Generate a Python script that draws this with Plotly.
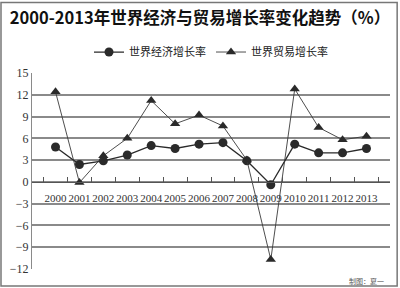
import plotly.graph_objects as go

years = ["2000", "2001", "2002", "2003", "2004", "2005", "2006", "2007",
         "2008", "2009", "2010", "2011", "2012", "2013"]
econ = [4.8, 2.4, 2.9, 3.7, 5.0, 4.6, 5.2, 5.4, 2.9, -0.4, 5.2, 4.0, 4.0, 4.6]
trade = [12.4, -0.1, 3.6, 6.0, 11.2, 8.0, 9.2, 7.7, 3.0, -10.7, 12.8, 7.5, 5.8, 6.3]
yticks = [-12, -9, -6, -3, 0, 3, 6, 9, 12, 15]

fig = go.Figure()
fig.add_trace(go.Scatter(
    x=years, y=econ, name="世界经济增长率", mode="lines+markers",
    line=dict(color="#2a2a2a", width=1.3),
    marker=dict(symbol="circle", size=9, color="#2a2a2a")))
fig.add_trace(go.Scatter(
    x=years, y=trade, name="世界贸易增长率", mode="lines+markers",
    line=dict(color="#3a3a3a", width=0.9),
    marker=dict(symbol="triangle-up", size=9, color="#2a2a2a")))

fig.update_layout(
    width=400, height=288,
    margin=dict(l=32, r=10, t=73, b=19),
    paper_bgcolor="white", plot_bgcolor="white",
    title=dict(text="<b>2000-2013年世界经济与贸易增长率变化趋势（%）</b>",
               x=0.5, xanchor="center", y=0.9375, yanchor="middle",
               font=dict(family="Noto Sans CJK SC", size=16.5, color="#111")),
    legend=dict(orientation="h", x=0.5, xanchor="center", y=1.107, yanchor="middle",
                font=dict(family="Noto Sans CJK SC", size=11, color="#222"),
                itemwidth=30, bgcolor="rgba(0,0,0,0)"),
    showlegend=True,
    xaxis=dict(type="category", anchor="free", position=12/27,
               showline=True, linecolor="#555", linewidth=1.2,
               ticks="inside", ticklen=5, tickcolor="#555", tickson="boundaries",
               showgrid=False, tickangle=0, ticklabelstandoff=6,
               tickfont=dict(family="Liberation Serif", size=11, color="#333")),
    yaxis=dict(range=[-12, 15], tickvals=yticks, showgrid=True,
               gridcolor="#8a8a8a", gridwidth=1.5, zeroline=False,
               showline=True, linecolor="#8a8a8a", linewidth=1.2,
               ticks="", tickfont=dict(family="Liberation Serif", size=12, color="#333")),
)
fig.add_annotation(text="制图：夏一", xref="paper", yref="paper", x=0.99, y=-0.062,
                   xanchor="right", yanchor="middle", showarrow=False,
                   font=dict(family="Noto Sans CJK SC", size=7, color="#555"))
fig.add_shape(type="rect", xref="paper", yref="paper", x0=-0.0866, x1=1.02,
              y0=-0.087, y1=1.36, line=dict(color="#777", width=1.5))
fig.write_html("out.html")
